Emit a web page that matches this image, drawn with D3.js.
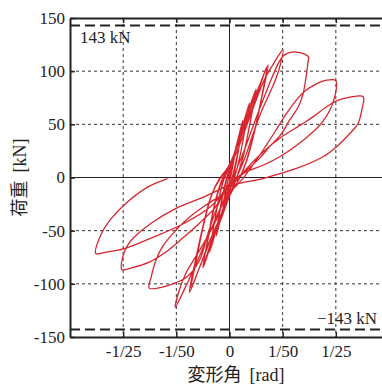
<!DOCTYPE html>
<html><head><meta charset="utf-8">
<script src="https://cdn.jsdelivr.net/npm/d3@7"></script>
<style>
html,body{margin:0;padding:0;background:#fff;}
svg{display:block;}
text{font-family:"Liberation Serif","Times New Roman",serif;fill:#222;}
</style></head>
<body>
<svg id="c" width="382" height="385"></svg>
<script>
// ---- data (rotation [rad], load [kN]) ----
const xTicks = [-0.04, -0.02, 0, 0.02, 0.04];
const xTickLabels = ["-1/25", "-1/50", "0", "1/50", "1/25"];
const yTicks = [-150, -100, -50, 0, 50, 100, 150];
const yTickLabels = ["-150", "-100", "-50", "0", "50", "100", "150"];
const capacity = [143, -143];
const capacityLabels = ["143 kN", "\u2212143 kN"];

const cyc1 = [[0,0],[0.0010,12],[0.0025,30],[0.0017,17],[0.0007,4],[-0.0004,-8],[-0.0013,-17],[-0.0025,-29],
  [-0.0017,-16],[-0.0007,-4],[0.0003,6]];
const cyc2 = [[0.0018,22],[0.0034,38],[0.0050,54],[0.0040,37],[0.0026,17],[0.0012,2],[-0.0003,-11],[-0.0020,-26],
  [-0.0035,-40],[-0.0050,-55],[-0.0040,-38],[-0.0026,-18],[-0.0012,-3],[0.0002,8]];
const cyc3 = [[0.0020,24],[0.0036,38],[0.0050,51],[0.0038,32],[0.0022,10],[0.0007,-4],[-0.0012,-19],[-0.0032,-36],
  [-0.0050,-52],[-0.0037,-32],[-0.0022,-12],[-0.0008,2],[0.0004,10]];
const cyc4 = [[0.0025,28],[0.0050,49],[0.0075,70],[0.0060,48],[0.0040,21],[0.0020,1],[0.0000,-13],[-0.0025,-32],
  [-0.0050,-50],[-0.0075,-70],[-0.0060,-47],[-0.0040,-20],[-0.0020,-1],[0.0000,10]];
const cyc5 = [[0.0030,32],[0.0065,58],[0.0100,83],[0.0080,55],[0.0055,24],[0.0030,2],[0.0005,-14],[-0.0030,-38],
  [-0.0065,-60],[-0.0100,-85],[-0.0080,-56],[-0.0055,-24],[-0.0028,-2],[0.0000,10]];
const cyc6 = [[0.0035,34],[0.0068,57],[0.0098,80],[0.0076,50],[0.0050,18],[0.0025,-2],[0.0000,-16],[-0.0035,-40],
  [-0.0068,-60],[-0.0098,-82],[-0.0076,-52],[-0.0050,-20],[-0.0022,0],[0.0003,11]];
const cyc7 = [[0.0040,38],[0.0080,66],[0.0115,88],[0.0145,106],[0.0122,76],[0.0095,44],[0.0065,16],[0.0035,-2],
  [0.0005,-15],[-0.0040,-40],[-0.0080,-64],[-0.0118,-88],[-0.0151,-108],[-0.0128,-78],[-0.0100,-46],
  [-0.0070,-18],[-0.0040,-2],[-0.0005,10]];
const cyc8 = [[0.0040,36],[0.0080,62],[0.0112,84],[0.0140,104],[0.0118,72],[0.0090,40],[0.0060,13],[0.0030,-4],
  [0.0000,-16],[-0.0040,-40],[-0.0080,-63],[-0.0115,-86],[-0.0145,-105],[-0.0122,-74],[-0.0095,-42],
  [-0.0065,-15],[-0.0035,-1],[0.0000,10]];
const cyc9 = [[0.0040,32],[0.0075,56],[0.0105,76],[0.0135,94],[0.0168,108],[0.0201,120],
  [0.0189,104],[0.0170,90],[0.0145,76],[0.0120,62],[0.0090,42],[0.0060,20],[0.0030,2],[0.0000,-12],
  [-0.0040,-32],[-0.0080,-55],[-0.0120,-78],[-0.0160,-100],[-0.0204,-122],
  [-0.0189,-106],[-0.0164,-90],[-0.0126,-74],[-0.0088,-58],[-0.0050,-40],[-0.0020,-20],[0.0010,-2]];
const cyc10 = [[0.0050,22],[0.0100,56],[0.0150,88],[0.0185,108],[0.0201,114],[0.0220,117],[0.0252,118],
  [0.0283,116],[0.0298,113],[0.0296,110],[0.0290,98],[0.0277,79],[0.0258,66],[0.0226,54],[0.0195,41],
  [0.0151,29],[0.0113,18],[0.0070,8],[0.0030,0],[0.0000,-6],
  [-0.0040,-24],[-0.0080,-52],[-0.0113,-78],[-0.0163,-94],[-0.0214,-100],[-0.0252,-103],[-0.0302,-104],
  [-0.0295,-94],[-0.0277,-78],[-0.0252,-65],[-0.0214,-53],[-0.0163,-40],[-0.0101,-28],[-0.0038,-18],[0.0012,-11]];
const cyc11 = [[0.0050,-1],[0.0100,16],[0.0140,31],[0.0176,45],[0.0214,60],[0.0252,73],[0.0283,81],
  [0.0327,88],[0.0365,91.5],[0.0400,91],
  [0.0396,76],[0.0377,63],[0.0346,51],[0.0321,44.5],[0.0252,30],[0.0189,19.5],[0.0126,11.5],[0.0060,5],[0.0015,-4],
  [-0.0020,-12],[-0.0050,-27],[-0.0113,-43],[-0.0176,-57],[-0.0239,-70],[-0.0302,-79.5],[-0.0365,-84.7],[-0.0405,-86.6],
  [-0.0403,-76],[-0.0384,-64],[-0.0358,-56],[-0.0295,-43],[-0.0201,-29],[-0.0094,-18],[-0.0020,-9],[0.0030,-2]];
const cyc12 = [[0.0063,8],[0.0126,24],[0.0189,37],[0.0271,50],[0.0314,57],[0.0365,66.5],[0.0403,72],
  [0.0453,75.5],[0.0503,76],
  [0.0498,64],[0.0484,51],[0.0459,43],[0.0403,29],[0.0352,19.5],[0.0252,8.5],[0.0126,-1],[0.0000,-9],
  [-0.0069,-27],[-0.0170,-43],[-0.0295,-57],[-0.0396,-67],[-0.0472,-70.6],[-0.0503,-71.5],
  [-0.0484,-54],[-0.0446,-39],[-0.0384,-23],[-0.0308,-9],[-0.0233,-1]];
const cycles = [cyc1, cyc2, cyc3, cyc4, cyc5, cyc6, cyc7, cyc8, cyc9, cyc10, cyc11, cyc12];

// ---- drawing ----
const svg = d3.select("#c");
const L = 70, R = 389, T = 18, B = 337;
const x = d3.scaleLinear().domain([-0.06, 0.06]).range([L, R]);
const y = d3.scaleLinear().domain([-150, 150]).range([B, T]);

const grid = svg.append("g");
xTicks.forEach(v => {
  grid.append("line").attr("x1", x(v)).attr("x2", x(v)).attr("y1", T).attr("y2", B)
    .attr("stroke", v === 0 ? "#222" : "#333").attr("stroke-width", 1)
    .attr("stroke-dasharray", v === 0 ? null : "3,3");
});
yTicks.filter(v => Math.abs(v) < 150).forEach(v => {
  grid.append("line").attr("x1", L).attr("x2", R).attr("y1", y(v)).attr("y2", y(v))
    .attr("stroke", v === 0 ? "#222" : "#333").attr("stroke-width", 1)
    .attr("stroke-dasharray", v === 0 ? null : "3,3");
});

// capacity lines
capacity.forEach(v => {
  svg.append("line").attr("x1", L).attr("x2", R).attr("y1", y(v)).attr("y2", y(v))
    .attr("stroke", "#222").attr("stroke-width", 2).attr("stroke-dasharray", "10,5");
});
svg.append("text").attr("x", 80).attr("y", y(capacity[0]) + 18).attr("font-size", 17).text(capacityLabels[0]);
svg.append("text").attr("x", 377).attr("y", y(capacity[1]) - 6).attr("font-size", 17)
  .attr("text-anchor", "end").text(capacityLabels[1]);

// hysteresis curve
const pts = [].concat(...cycles);
const line = d3.line().x(d => x(d[0])).y(d => y(d[1])).curve(d3.curveCatmullRom.alpha(0.5));
svg.append("path").attr("d", line(pts)).attr("fill", "none")
  .attr("stroke", "#d8262f").attr("stroke-width", 1.3).attr("stroke-linejoin", "round");

// axes
function styleAxis(g) {
  g.select(".domain").attr("stroke", "#222").attr("stroke-width", 2);
  g.selectAll(".tick line").attr("stroke", "#222").attr("stroke-width", 1.5);
  g.selectAll(".tick text").attr("font-family", "Liberation Serif, serif").attr("font-size", 17).attr("fill", "#222");
}
const ax = svg.append("g").attr("transform", `translate(0,${B})`)
  .call(d3.axisBottom(x).tickValues(xTicks).tickFormat((d, i) => xTickLabels[i]).tickSizeInner(-5).tickSizeOuter(0).tickPadding(8));
styleAxis(ax);
const axT = svg.append("g").attr("transform", `translate(0,${T})`)
  .call(d3.axisTop(x).tickValues(xTicks).tickFormat("").tickSizeInner(-5).tickSizeOuter(0));
styleAxis(axT);
const ay = svg.append("g").attr("transform", `translate(${L},0)`)
  .call(d3.axisLeft(y).tickValues(yTicks).tickFormat((d, i) => yTickLabels[i]).tickSizeInner(-5).tickSizeOuter(0).tickPadding(5));
styleAxis(ay);

// axis titles
const xt = svg.append("text").attr("x", 236).attr("y", 381).attr("text-anchor", "middle").attr("font-size", 18);
xt.append("tspan").attr("font-family", "Noto Sans CJK JP").text("変形角");
xt.append("tspan").attr("dx", 8).text("[rad]");
const yt = svg.append("text").attr("transform", `translate(26,${y(0)}) rotate(-90)`).attr("text-anchor", "middle").attr("font-size", 18);
yt.append("tspan").attr("font-family", "Noto Sans CJK JP").text("荷重");
yt.append("tspan").attr("dx", 8).text("[kN]");
</script>
</body></html>
